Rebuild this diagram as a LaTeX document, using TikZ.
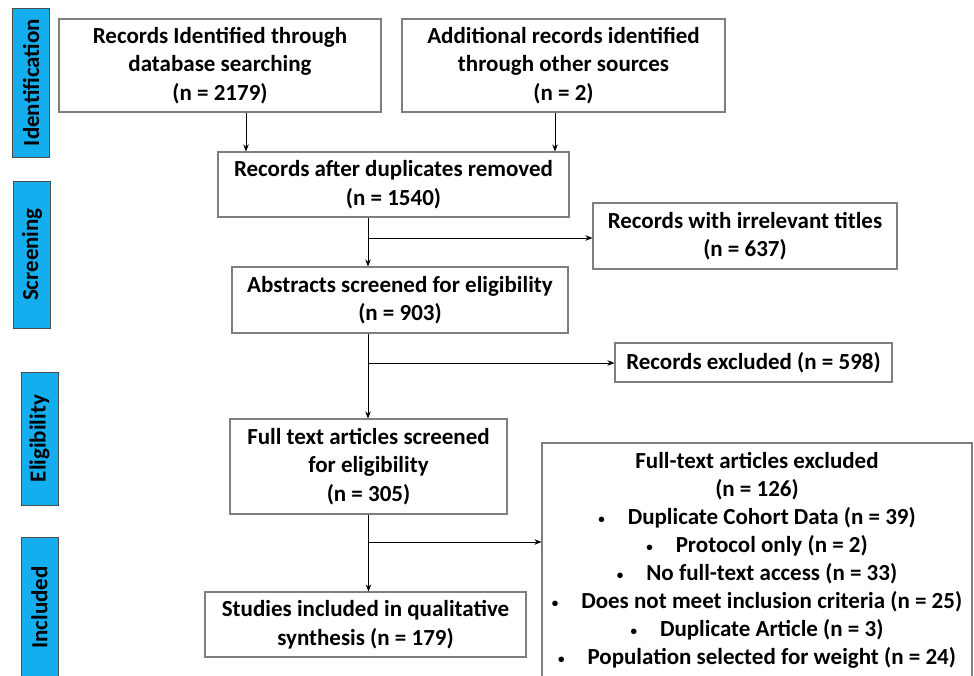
\documentclass[tikz,border=0pt]{standalone}
\usepackage{fontspec}
\setmainfont{Carlito}
\usetikzlibrary{arrows.meta,calc}
\definecolor{barblue}{HTML}{14AEEF}
\definecolor{boxgray}{HTML}{7F7F7F}
\newcommand\bul{\raisebox{0.12ex}{\fontsize{13}{13}\selectfont\textbullet}\hspace{1.0em}}
\begin{document}
\begin{tikzpicture}[x=1pt,y=-1pt,
  txt/.style={font=\fontsize{23}{28.5}\selectfont\bfseries},
  box/.style={txt,draw=boxgray,line width=1.1pt,fill=white,align=center,inner sep=0pt,anchor=center},
  bar/.style={txt,draw=black!70,fill=barblue,line width=0.8pt,inner sep=0pt,rotate=90,minimum height=37pt,anchor=center},
  arr/.style={-{Stealth[length=7pt,width=5.5pt]},line width=0.8pt,draw=black}
]
\useasboundingbox (0,0) rectangle (974,676);
% stage bars
\node[bar,minimum width=149pt] (p1) at (31,82.5) {Identification};
\node[bar,minimum width=147pt] (p2) at (32,254.5) {Screening};
\node[bar,minimum width=133pt] (p3) at (39.5,438.5) {Eligibility};
\node[bar,minimum width=141pt] (p4) at (39.5,607.5) {Included};
% boxes
\node[box,minimum width=322pt,minimum height=93pt] (A) at (220,65.5) {Records Identified through\\database searching\\(n = 2179)};
\node[box,minimum width=323pt,minimum height=93pt] (B) at (563.5,65.5) {Additional records identified\\through other sources\\(n = 2)};
\node[box,minimum width=351pt,minimum height=65pt] (C) at (393.5,184.5) {Records after duplicates removed\\(n = 1540)};
\node[box,minimum width=304pt,minimum height=66pt] (D) at (745,236) {Records with irrelevant titles\\(n = 637)};
\node[box,minimum width=336pt,minimum height=66pt] (E) at (400,300) {Abstracts screened for eligibility\\(n = 903)};
\node[box,minimum width=277pt,minimum height=39pt] (F) at (753.5,362.5) {Records excluded (n = 598)};
\node[box,minimum width=277pt,minimum height=95pt] (G) at (368.5,466.5) {Full text articles screened\\for eligibility\\(n = 305)};
\node[box,minimum width=430pt,minimum height=235pt,font=\fontsize{23}{28.1}\selectfont\bfseries] (H) at (757,560.5) {Full-text articles excluded\\(n = 126)\\\bul Duplicate Cohort Data (n = 39)\\\bul Protocol only (n = 2)\\\bul No full-text access (n = 33)\\\bul Does not meet inclusion criteria (n = 25)\\\bul Duplicate Article (n = 3)\\\bul Population selected for weight (n = 24)};
\node[box,minimum width=321pt,minimum height=65pt] (I) at (365.5,624.5) {Studies included in qualitative\\synthesis (n = 179)};
% helper coordinates
\coordinate (xa) at (246,0);
\coordinate (xb) at (555,0);
\coordinate (xc) at (368,0);
\coordinate (y1) at (0,238);
\coordinate (y2) at (0,363);
\coordinate (y3) at (0,542);
% connectors
\draw[arr] (A.south -| xa) -- (C.north -| xa);
\draw[arr] (B.south -| xb) -- (C.north -| xb);
\draw[arr] (C.south -| xc) -- (E.north -| xc);
\draw[arr] (xc |- y1) -- (D.west |- y1);
\draw[arr] (E.south -| xc) -- (G.north -| xc);
\draw[arr] (xc |- y2) -- (F.west |- y2);
\draw[arr] (G.south) -- (I.north -| G.south);
\draw[arr] (G.south |- y3) -- (H.west |- y3);
\end{tikzpicture}
\end{document}
